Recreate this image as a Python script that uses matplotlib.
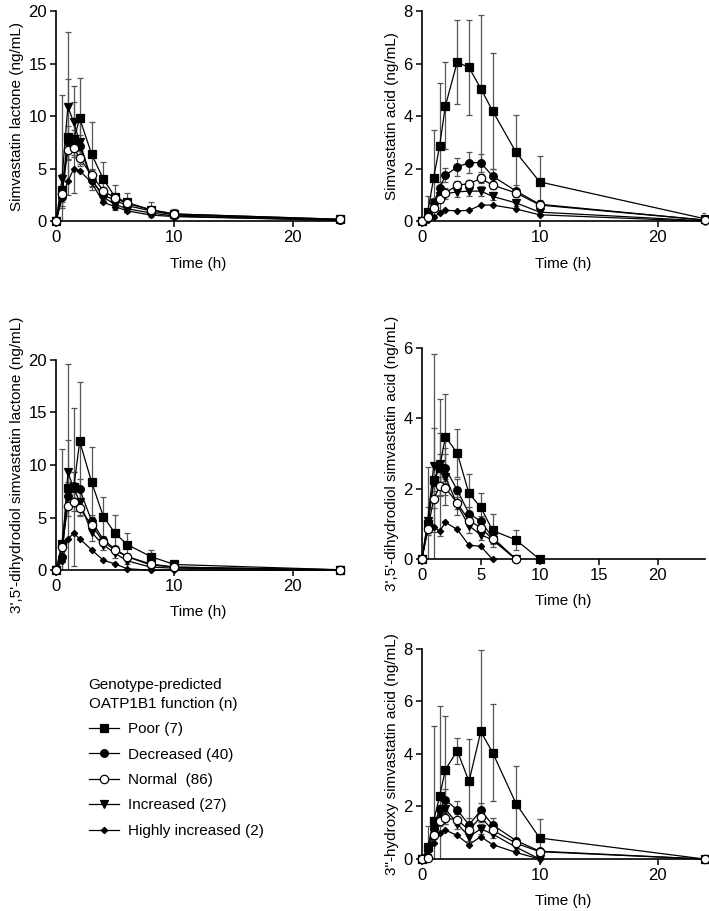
import numpy as np
import matplotlib.pyplot as plt

plt.rcParams['font.family'] = ['Liberation Sans', 'DejaVu Sans']

nan = np.nan
t = [0, 0.5, 1, 1.5, 2, 3, 4, 5, 6, 8, 10, 24]

groups = ['Poor (7)', 'Decreased (40)', 'Normal  (86)', 'Increased (27)', 'Highly increased (2)']

# simvastatin lactone (ng/mL)
sl_mean = {
    'poor': [0, 3.0, 8.0, 7.8, 9.8, 6.4, 4.0, 2.3, 1.8, 1.1, 0.7, 0.2],
    'dec':  [0, 2.3, 7.5, 7.5, 7.2, 3.9, 2.5, 2.0, 1.5, 1.0, 0.6, 0.15],
    'norm': [0, 2.6, 6.8, 7.0, 6.0, 4.4, 2.9, 2.2, 1.7, 1.1, 0.7, 0.2],
    'inc':  [0, 4.0, 10.9, 9.4, 7.5, 4.0, 2.3, 1.6, 1.2, 0.8, 0.5, 0.1],
    'high': [0, 2.2, 3.8, 5.0, 4.8, 3.7, 1.8, 1.4, 1.0, 0.6, 0.45, 0.1],
}
sl_err = {
    'poor': [0, 1.5, 5.5, 5.1, 3.85, 3.0, 1.6, 1.2, 0.9, 0.7, 0.5, 0.1],
    'dec':  [0, 1.0, 1.6, 1.2, 1.0, 0.6, 0.5, 0.35, 0.3, 0.2, 0.15, 0.05],
    'norm': [0, 0.8, 1.0, 0.9, 0.7, 0.5, 0.4, 0.3, 0.25, 0.2, 0.1, 0.05],
    'inc':  [0, 8.0, 7.1, 1.9, 2.0, 1.0, 0.6, 0.4, 0.3, 0.2, 0.2, 0.05],
}

# simvastatin acid (ng/mL)
sa_mean = {
    'poor': [0, 0.35, 1.65, 2.85, 4.4, 6.05, 5.85, 5.05, 4.2, 2.62, 1.5, 0.1],
    'dec':  [0, 0.2, 0.7, 1.25, 1.75, 2.07, 2.23, 2.23, 1.72, 1.15, 0.65, 0.05],
    'norm': [0, 0.15, 0.5, 0.85, 1.08, 1.38, 1.43, 1.63, 1.38, 1.08, 0.62, 0.05],
    'inc':  [0, 0.1, 0.68, 0.95, 1.05, 1.12, 1.15, 1.15, 0.95, 0.7, 0.35, 0.02],
    'high': [0, 0.05, 0.18, 0.3, 0.42, 0.4, 0.42, 0.62, 0.62, 0.47, 0.25, 0.0],
}
sa_err = {
    'poor': [0, 0.6, 1.82, 2.4, 1.65, 1.6, 1.8, 2.8, 2.2, 1.43, 1.0, 0.2],
    'dec':  [0, 0.1, 0.2, 0.25, 0.27, 0.33, 0.4, 0.35, 0.26, 0.23, 0.15, 0.03],
    'norm': [0, 0.05, 0.1, 0.12, 0.13, 0.15, 0.15, 0.17, 0.15, 0.12, 0.08, 0.02],
    'inc':  [0, 0.05, 0.15, 0.2, 0.2, 0.2, 0.2, 0.2, 0.15, 0.1, 0.06, 0.01],
}

# 3',5'-dihydrodiol simvastatin lactone (ng/mL)
dl_mean = {
    'poor': [0, 2.5, 7.85, 7.9, 12.25, 8.4, 5.1, 3.5, 2.45, 1.3, 0.55, 0.05],
    'dec':  [0, 1.3, 7.1, 8.0, 7.7, 4.7, 2.9, 2.0, 1.3, 0.5, 0.3, 0.05],
    'norm': [0, 2.2, 6.1, 6.5, 5.9, 4.3, 2.7, 1.9, 1.3, 0.6, 0.3, 0.0],
    'inc':  [0, 1.0, 9.3, 7.8, 6.5, 3.6, 2.4, 1.6, 0.9, 0.3, 0.2, 0.05],
    'high': [0, 0.9, 3.0, 3.5, 3.0, 1.95, 0.95, 0.6, 0.15, 0.0, 0.0, 0.0],
}
dl_err = {
    'poor': [0, 9.0, 11.8, 7.5, 5.6, 3.3, 1.9, 1.8, 1.05, 0.6, 0.3, 0.05],
    'dec':  [0, 0.5, 1.3, 1.3, 1.0, 0.6, 0.4, 0.3, 0.2, 0.1, 0.1, 0.02],
    'norm': [0, 0.4, 0.9, 0.9, 0.7, 0.5, 0.35, 0.25, 0.2, 0.1, 0.05, 0.0],
    'inc':  [0, 1.5, 3.1, 1.5, 1.2, 0.8, 0.5, 0.4, 0.3, 0.1, 0.1, 0.02],
}

# 3',5'-dihydrodiol simvastatin acid (ng/mL)
da_mean = {
    'poor': [0, 1.0, 2.25, 2.6, 3.48, 3.02, 1.87, 1.48, 0.82, 0.55, 0.0, nan],
    'dec':  [0, 0.95, 2.2, 2.6, 2.58, 1.97, 1.3, 1.08, 0.62, 0.0, nan, nan],
    'norm': [0, 0.85, 1.7, 2.08, 2.03, 1.6, 1.1, 0.9, 0.57, 0.0, nan, nan],
    'inc':  [0, 1.1, 2.65, 2.7, 2.35, 1.55, 0.95, 0.7, 0.55, 0.0, nan, nan],
    'high': [0, 0.85, 0.93, 0.8, 1.05, 0.85, 0.4, 0.37, 0.0, nan, nan, nan],
}
da_err = {
    'poor': [0, 1.62, 1.47, 1.95, 1.2, 0.68, 0.55, 0.4, 0.48, 0.28, 0, nan],
    'dec':  [0, 0.2, 0.5, 0.4, 0.4, 0.3, 0.2, 0.15, 0.1, 0, nan, nan],
    'norm': [0, 0.15, 0.25, 0.25, 0.2, 0.18, 0.15, 0.12, 0.1, 0, nan, nan],
    'inc':  [0, 0.4, 3.17, 0.9, 0.8, 0.3, 0.2, 0.15, 0.1, 0, nan, nan],
}

# 3''-hydroxy simvastatin acid (ng/mL)
ha_mean = {
    'poor': [0, 0.45, 1.45, 2.38, 3.4, 4.12, 2.95, 4.85, 4.05, 2.1, 0.8, 0.0],
    'dec':  [0, 0.4, 1.2, 1.9, 2.25, 1.87, 1.3, 1.85, 1.3, 0.7, 0.3, 0.0],
    'norm': [0, 0.05, 0.9, 1.45, 1.55, 1.5, 1.1, 1.6, 1.1, 0.6, 0.28, 0.0],
    'inc':  [0, 0.3, 1.0, 1.75, 1.9, 1.35, 0.85, 1.15, 0.95, 0.45, 0.0, nan],
    'high': [0, 0.15, 0.6, 1.0, 1.1, 0.9, 0.55, 0.85, 0.55, 0.25, 0.0, nan],
}
ha_err = {
    'poor': [0, 0.8, 3.6, 3.45, 2.05, 0.5, 1.6, 3.1, 1.85, 1.45, 0.73, 0],
    'dec':  [0, 0.2, 0.4, 0.45, 0.4, 0.35, 0.25, 0.3, 0.25, 0.1, 0.05, 0],
    'norm': [0, 0.05, 0.15, 0.2, 0.2, 0.2, 0.15, 0.2, 0.15, 0.1, 0.05, 0],
    'inc':  [0, 0.1, 0.2, 0.3, 0.3, 0.2, 0.15, 0.2, 0.15, 0.1, 0, nan],
}

keys = ['poor', 'dec', 'norm', 'inc', 'high']
styles = {
    'poor': dict(marker='s', ms=5.5, mfc='black'),
    'dec':  dict(marker='o', ms=5.5, mfc='black'),
    'norm': dict(marker='o', ms=6, mfc='white'),
    'inc':  dict(marker='v', ms=5.5, mfc='black'),
    'high': dict(marker='D', ms=3.2, mfc='black'),
}

fig = plt.figure(figsize=(7.09, 9.11), dpi=100)

panels = [
    ([0.079, 0.757, 0.401, 0.231], sl_mean, sl_err, 20, [0, 5, 10, 15, 20], [0, 10, 20],
     'Simvastatin lactone (ng/mL)'),
    ([0.595, 0.757, 0.399, 0.231], sa_mean, sa_err, 8, [0, 2, 4, 6, 8], [0, 10, 20],
     'Simvastatin acid (ng/mL)'),
    ([0.079, 0.374, 0.401, 0.231], dl_mean, dl_err, 20, [0, 5, 10, 15, 20], [0, 10, 20],
     "3',5'-dihydrodiol simvastatin lactone (ng/mL)"),
    ([0.595, 0.386, 0.399, 0.232], da_mean, da_err, 6, [0, 2, 4, 6], [0, 5, 10, 15, 20],
     "3',5'-dihydrodiol simvastatin acid (ng/mL)"),
    ([0.595, 0.057, 0.399, 0.231], ha_mean, ha_err, 8, [0, 2, 4, 6, 8], [0, 10, 20],
     '3"-hydroxy simvastatin acid (ng/mL)'),
]

handles = []
for rect, means, errs, ytop, yt, xt, ylab in panels:
    ax = fig.add_axes(rect)
    for k in keys:
        if k in errs:
            ax.errorbar(t, means[k], yerr=errs[k], fmt='none', ecolor='#555555',
                        elinewidth=0.9, capsize=2.5, capthick=0.9, zorder=1)
    for k in keys[::-1]:
        ln, = ax.plot(t, means[k], color='black', lw=0.9, mec='black', mew=0.9,
                      clip_on=False, zorder=3 if k != 'norm' else 4, **styles[k])
        if len(handles) < 5:
            handles.append(ln)
    ax.set_xlim(0, 24)
    ax.set_ylim(0, ytop)
    ax.set_xticks(xt)
    ax.set_yticks(yt)
    ax.spines[['top', 'right']].set_visible(False)
    ax.spines[['left', 'bottom']].set_linewidth(1.2)
    ax.tick_params(direction='out', length=4, width=1.1, labelsize=12, pad=2.5)
    ax.set_xlabel('Time (h)', fontsize=11, labelpad=8)
    ax.set_ylabel(ylab, fontsize=11, labelpad=3)

handles = handles[::-1]
leg = fig.legend(handles, groups, loc='upper left', bbox_to_anchor=(0.125, 0.2555),
                 title='Genotype-predicted\nOATP1B1 function (n)', alignment='left',
                 frameon=False, fontsize=11, title_fontsize=11,
                 handlelength=2.0, handletextpad=0.55, labelspacing=0.75,
                 borderaxespad=0, borderpad=0)
leg.get_title().set_linespacing(1.4)

fig.savefig('out.png', dpi=100)
